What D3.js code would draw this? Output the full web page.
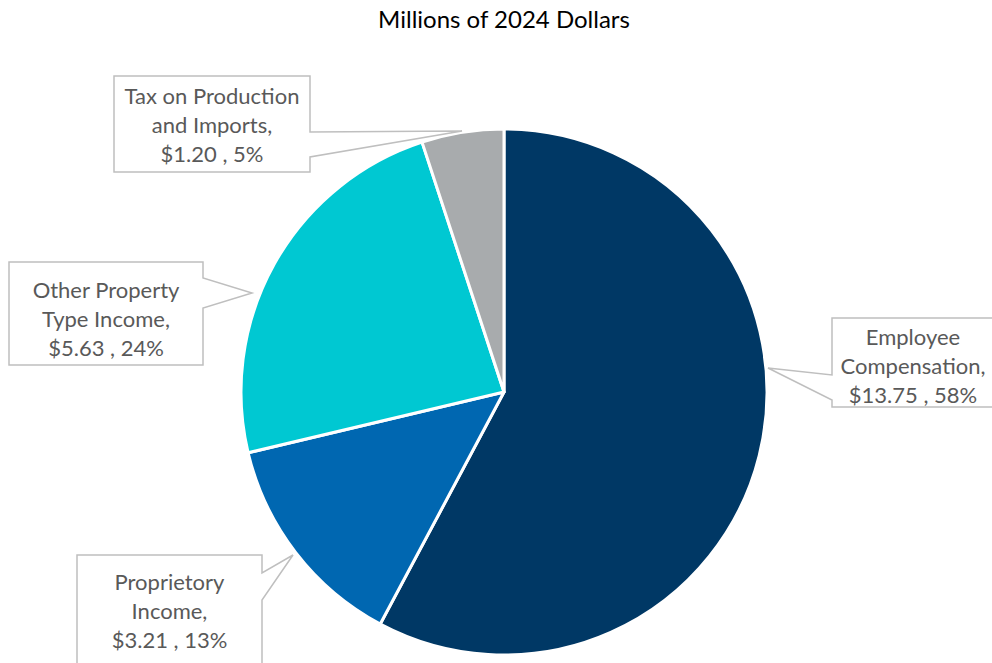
<!DOCTYPE html>
<html>
<head>
<meta charset="utf-8">
<script src="https://cdn.jsdelivr.net/npm/d3@7"></script>
<style>
  html, body { margin: 0; padding: 0; background: #fff; }
  svg { display: block; }
  text { font-family: Lato, "Open Sans", sans-serif; }
</style>
</head>
<body>
<svg id="chart" width="992" height="663"></svg>
<script>
// Income components, millions of 2024 dollars
const categories = ["Employee Compensation", "Proprietory Income", "Other Property Type Income", "Tax on Production and Imports"];
const values = [13.75, 3.21, 5.63, 1.20];
const colors = ["#003865", "#0067b1", "#00c8d2", "#a8abad"];
// Callout text lines per slice (category name wrapped)
const labelLines = [
  ["Employee", "Compensation,"],
  ["Proprietory", "Income,"],
  ["Other Property", "Type Income,"],
  ["Tax on Production", "and Imports,"]
];

// Callout placement: box rectangle, pointer base on one box side, pointer tip, first text baseline
const callouts = [
  { x: 832, y: 318, w: 162, h: 89,  side: "left",  b0: 375, b1: 400, tip: [768, 368], ty: 345 },
  { x: 77,  y: 555, w: 185, h: 120, side: "right", b0: 573, b1: 600, tip: [293, 555], ty: 590 },
  { x: 9,   y: 262, w: 194, h: 103, side: "right", b0: 278, b1: 308, tip: [252, 293], ty: 298 },
  { x: 114, y: 76,  w: 196, h: 96,  side: "right", b0: 132, b1: 157, tip: [462, 131], ty: 104 }
];

const svg = d3.select("#chart");
const cx = 504, cy = 392, radius = 263;

svg.append("text")
  .attr("x", 504).attr("y", 28)
  .attr("text-anchor", "middle")
  .attr("font-size", 24)
  .attr("fill", "#000")
  .text("Millions of 2024 Dollars");

const total = d3.sum(values);
const pie = d3.pie().sort(null).value(d => d)(values);
const arc = d3.arc().innerRadius(0).outerRadius(radius);

const g = svg.append("g").attr("transform", `translate(${cx},${cy})`);
g.selectAll("path.slice")
  .data(pie)
  .join("path")
  .attr("class", "slice")
  .attr("d", arc)
  .attr("fill", (d, i) => colors[i])
  .attr("stroke", "#fff")
  .attr("stroke-width", 3)
  .attr("stroke-linejoin", "round");

// Callout boxes with pointer wedges
function calloutPath(c) {
  const x0 = c.x, y0 = c.y, x1 = c.x + c.w, y1 = c.y + c.h;
  if (c.side === "right") {
    return `M${x0},${y0} L${x1},${y0} L${x1},${c.b0} L${c.tip[0]},${c.tip[1]} L${x1},${c.b1} L${x1},${y1} L${x0},${y1} Z`;
  }
  return `M${x0},${y0} L${x1},${y0} L${x1},${y1} L${x0},${y1} L${x0},${c.b1} L${c.tip[0]},${c.tip[1]} L${x0},${c.b0} Z`;
}

const lab = svg.append("g");
pie.forEach((d, i) => {
  const c = callouts[i];
  lab.append("path")
    .attr("d", calloutPath(c))
    .attr("fill", "#fff")
    .attr("stroke", "#bfbfbf")
    .attr("stroke-width", 1.5)
    .attr("stroke-linejoin", "miter");
  const lines = labelLines[i].concat([`$${values[i].toFixed(2)} , ${Math.round(values[i] / total * 100)}%`]);
  const lineH = 29;
  const midX = c.x + c.w / 2;
  lines.forEach((t, k) => {
    lab.append("text")
      .attr("x", midX)
      .attr("y", c.ty + k * lineH)
      .attr("text-anchor", "middle")
      .attr("font-size", 22)
      .attr("fill", "#595959")
      .text(t);
  });
});
</script>
</body>
</html>
